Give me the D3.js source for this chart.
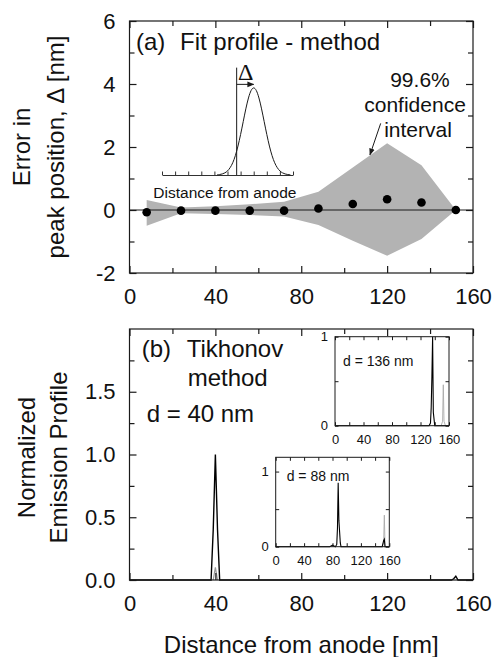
<!DOCTYPE html>
<html><head><meta charset="utf-8">
<script src="https://cdn.jsdelivr.net/npm/d3@7"></script>
<style>
html,body{margin:0;padding:0;background:#fff;}
svg{display:block;}
text{font-family:Arial,"Liberation Sans",Helvetica,sans-serif;fill:#111;}
</style></head><body>
<svg id="chart" width="495" height="657"></svg>
<script>
// ---- Panel (a): error in peak position, fit-profile method ----
const fitDistance = [8, 24, 40, 56, 72, 88, 104, 120, 136, 152];
const fitError    = [-0.07, -0.02, -0.02, -0.02, -0.02, 0.05, 0.19, 0.34, 0.24, 0.0];
const bandUpper   = [0.32, 0.08, 0.12, 0.18, 0.26, 0.58, 1.35, 2.12, 1.42, 0.0];
const bandLower   = [-0.5, -0.1, -0.13, -0.16, -0.21, -0.48, -0.98, -1.45, -0.92, 0.0];

// schematic emission peak drawn above the data (arbitrary units)
const sketchX = [4.2, 4.4, 4.6, 4.8, 5.0, 5.2, 5.4, 5.6, 5.8, 6.0, 6.2, 6.4, 6.6, 6.8, 7.0,
                 7.2, 7.4, 7.6, 7.8, 8.0, 8.2, 8.4, 8.6, 8.8, 9.0, 9.2, 9.4, 9.6, 9.8];
const sketchY = [0.002, 0.005, 0.011, 0.023, 0.044, 0.080, 0.135, 0.216, 0.325, 0.458, 0.607,
                 0.755, 0.882, 0.969, 1.0, 0.969, 0.882, 0.755, 0.607, 0.458, 0.325, 0.216,
                 0.135, 0.080, 0.044, 0.023, 0.011, 0.005, 0.002];
const sketchTicks = [0, 1, 2, 3, 4, 5, 6, 7, 8, 9, 10];
const trueMarker = 5.7, fittedPeak = 7.0;

// ---- Panel (b): Tikhonov reconstruction ----
const profileX  = [0, 38, 39, 40, 41, 42, 150, 151, 152, 153, 160];
const profileY  = [0, 0, 0.4, 1.0, 0.4, 0, 0, 0.01, 0.03, 0, 0];
const profileGX = [39, 40, 41];
const profileGY = [0, 0.1, 0];

const p136X  = [0, 132, 134, 135, 136, 137, 138, 140, 160];
const p136Y  = [0, 0, 0.03, 0.2, 0.55, 1.0, 0.15, 0, 0];
const p136GX = [149, 151, 152, 153, 155];
const p136GY = [0, 0.05, 0.46, 0.05, 0];

const p88X  = [0, 76, 78, 80, 84, 86, 87, 88, 89, 90, 91, 92, 150, 152, 153, 154, 160];
const p88Y  = [0, 0, 0.01, 0.02, 0, 0.03, 0.25, 0.85, 0.35, 0.2, 0.05, 0, 0, 0.08, 0.1, 0, 0];
const p88GX = [150, 152, 153, 154];
const p88GY = [0, 0.05, 0.42, 0];

// tick values
const xMajor = [0, 40, 80, 120, 160], xMinor = [20, 60, 100, 140];
const yMajorA = [-2, 0, 2, 4, 6], yMinorA = [-1, 1, 3, 5];
const yMajorB = [0, 0.5, 1.0, 1.5], yMinorB = [0.25, 0.75, 1.25, 1.75];
const insetXMajor = [0, 40, 80, 120, 160], insetXMinor = [20, 60, 100, 140];
const insetYMajor = [0, 1], insetYMinor = [0.5];

const svg = d3.select("#chart");
const INK = "#1a1a1a";

const defs = svg.append("defs");
defs.append("marker").attr("id", "head").attr("viewBox", "0 0 10 10")
  .attr("refX", 9).attr("refY", 5).attr("markerWidth", 7).attr("markerHeight", 7)
  .attr("orient", "auto-start-reverse")
  .append("path").attr("d", "M0,1 L10,5 L0,9 Z").attr("fill", INK);

// framed plot with inward ticks on all four sides
function framed(g, x, y, o) {
  const [x0, x1] = x.range(), [y0, y1] = y.range();
  const fmtNone = () => "";
  const put = (axis, tx, ty) => {
    const a = g.append("g").attr("transform", `translate(${tx},${ty})`).call(axis);
    a.select(".domain").remove();
    a.selectAll("line").attr("stroke", INK).attr("stroke-width", o.sw);
    a.selectAll("text").attr("font-size", o.fs).attr("fill", "#111")
      .style("font-family", "Arial, 'Liberation Sans', sans-serif");
    return a;
  };
  put(d3.axisBottom(x).tickValues(o.xMajor).tickSize(-o.major).tickPadding(o.padX).tickFormat(o.xFmt), 0, y0);
  put(d3.axisBottom(x).tickValues(o.xMinor).tickSize(-o.minor).tickFormat(fmtNone), 0, y0);
  put(d3.axisTop(x).tickValues(o.xMajor).tickSize(-o.major).tickFormat(fmtNone), 0, y1);
  put(d3.axisTop(x).tickValues(o.xMinor).tickSize(-o.minor).tickFormat(fmtNone), 0, y1);
  put(d3.axisLeft(y).tickValues(o.yMajor).tickSize(-o.major).tickPadding(o.padY).tickFormat(o.yFmt), x0, 0);
  put(d3.axisLeft(y).tickValues(o.yMinor).tickSize(-o.minor).tickFormat(fmtNone), x0, 0);
  put(d3.axisRight(y).tickValues(o.yMajor).tickSize(-o.major).tickFormat(fmtNone), x1, 0);
  put(d3.axisRight(y).tickValues(o.yMinor).tickSize(-o.minor).tickFormat(fmtNone), x1, 0);
  g.append("rect").attr("x", x0).attr("y", y1).attr("width", x1 - x0).attr("height", y0 - y1)
    .attr("fill", "none").attr("stroke", INK).attr("stroke-width", o.sw);
}

// ================= Panel (a) =================
const xA = d3.scaleLinear().domain([0, 160]).range([129.5, 473]);
const yA = d3.scaleLinear().domain([-2, 6]).range([273, 21]);
const gA = svg.append("g");

const bandRows = fitDistance.map((d, i) => ({ x: d, hi: bandUpper[i], lo: bandLower[i] }));
gA.append("path").datum(bandRows)
  .attr("d", d3.area().x(d => xA(d.x)).y0(d => yA(d.lo)).y1(d => yA(d.hi)))
  .attr("fill", "#b3b3b3");

gA.append("line").attr("x1", xA(0)).attr("x2", xA(160)).attr("y1", yA(0)).attr("y2", yA(0))
  .attr("stroke", INK).attr("stroke-width", 1);

gA.selectAll("circle.pt").data(fitDistance).join("circle").attr("class", "pt")
  .attr("cx", d => xA(d)).attr("cy", (d, i) => yA(fitError[i])).attr("r", 4.3).attr("fill", "#000");

framed(gA, xA, yA, {
  xMajor, xMinor, yMajor: yMajorA, yMinor: yMinorA, major: 7, minor: 5,
  padX: 15, padY: 14, fs: 22, sw: 1.2, xFmt: d => String(d), yFmt: d => String(d)
});

gA.append("text").attr("x", 136).attr("y", 50).attr("font-size", 24).text("(a)");
gA.append("text").attr("x", 180).attr("y", 50).attr("font-size", 24).text("Fit profile - method");

// confidence interval annotation
[["99.6%", 135.3, 3.9], ["confidence", 133, 3.12], ["interval", 134.4, 2.32]].forEach(([t, dx, dy]) => {
  gA.append("text").attr("x", xA(dx)).attr("y", yA(dy)).attr("text-anchor", "middle")
    .attr("font-size", 21).text(t);
});
gA.append("line").attr("x1", xA(117)).attr("y1", yA(2.75)).attr("x2", xA(112)).attr("y2", yA(1.75))
  .attr("stroke", INK).attr("stroke-width", 1).attr("marker-end", "url(#head)");

// schematic peak: true position marker and fitted peak offset by Δ
const xi = d3.scaleLinear().domain([0, 10]).range([162, 293]);
const yi = d3.scaleLinear().domain([0, 1]).range([175, 87]);
const gi = gA.append("g");
const sAxis = gi.append("g").attr("transform", `translate(0,${yi(0)})`)
  .call(d3.axisBottom(xi).tickValues(sketchTicks).tickSize(-3.5).tickSizeOuter(0).tickFormat(() => ""));
sAxis.selectAll("line,path").attr("stroke", INK).attr("stroke-width", 0.9);
gi.append("path").datum(sketchX.map((d, i) => [d, sketchY[i]]))
  .attr("d", d3.line().x(d => xi(d[0])).y(d => yi(d[1])).curve(d3.curveBasis))
  .attr("fill", "none").attr("stroke", INK).attr("stroke-width", 1);
gi.append("line").attr("x1", xi(trueMarker)).attr("x2", xi(trueMarker)).attr("y1", yi(0)).attr("y2", yi(1.22))
  .attr("stroke", INK).attr("stroke-width", 1);
gi.append("line").attr("x1", xi(trueMarker)).attr("x2", xi(fittedPeak)).attr("y1", yi(1.03)).attr("y2", yi(1.03))
  .attr("stroke", INK).attr("stroke-width", 1).attr("marker-end", "url(#head)");
gi.append("text").attr("x", xi(6.4)).attr("y", yi(1.08)).attr("text-anchor", "middle")
  .attr("font-size", 24).style("font-family", "'Liberation Serif','Times New Roman',serif").text("Δ");
gi.append("text").attr("x", xi(4.8)).attr("y", yi(-0.26)).attr("text-anchor", "middle")
  .attr("font-size", 15.5).text("Distance from anode");

// y title (a)
const titleA = svg.append("g").attr("transform", `translate(0,${(yA(6) + yA(-2)) / 2}) rotate(-90)`);
titleA.append("text").attr("x", 0).attr("y", 30).attr("text-anchor", "middle").attr("font-size", 24).text("Error in");
titleA.append("text").attr("x", 0).attr("y", 64).attr("text-anchor", "middle").attr("font-size", 24).text("peak position, Δ [nm]");

// ================= Panel (b) =================
const xB = d3.scaleLinear().domain([0, 160]).range([129.5, 473]);
const yB = d3.scaleLinear().domain([0, 2]).range([580, 329]);
const gB = svg.append("g");

const drawLine = (g, x, y, xs, ys, color, w) => g.append("path")
  .datum(xs.map((d, i) => [d, ys[i]]))
  .attr("d", d3.line().x(d => x(d[0])).y(d => y(d[1])))
  .attr("fill", "none").attr("stroke", color).attr("stroke-width", w).attr("stroke-linejoin", "miter");

drawLine(gB, xB, yB, profileX, profileY, "#000", 1.4);
drawLine(gB, xB, yB, profileGX, profileGY, "#999", 1.2);

framed(gB, xB, yB, {
  xMajor, xMinor, yMajor: yMajorB, yMinor: yMinorB, major: 7, minor: 5,
  padX: 15, padY: 14, fs: 22, sw: 1.2, xFmt: d => String(d), yFmt: d3.format(".1f")
});

gB.append("text").attr("x", 141.7).attr("y", 357).attr("font-size", 24).text("(b)");
gB.append("text").attr("x", 186.7).attr("y", 357).attr("font-size", 24).text("Tikhonov");
gB.append("text").attr("x", 227.7).attr("y", 386).attr("text-anchor", "middle").attr("font-size", 24).text("method");
gB.append("text").attr("x", 146.7).attr("y", 422).attr("font-size", 24).text("d = 40 nm");

// insets for other emitter positions
function inset(x, y, xs, ys, gxs, gys, label, lx, ly) {
  const g = gB.append("g");
  g.append("rect").attr("x", x.range()[0]).attr("y", y.range()[1])
    .attr("width", x.range()[1] - x.range()[0]).attr("height", y.range()[0] - y.range()[1]).attr("fill", "#fff");
  drawLine(g, x, y, gxs, gys, "#aaa", 0.9);
  drawLine(g, x, y, xs, ys, "#000", 1.1);
  framed(g, x, y, {
    xMajor: insetXMajor, xMinor: insetXMinor, yMajor: insetYMajor, yMinor: insetYMinor,
    major: 3.5, minor: 3.5, padX: 9, padY: 7, fs: 13, sw: 1, xFmt: d => String(d), yFmt: d => String(d)
  });
  g.append("text").attr("x", lx).attr("y", ly).attr("font-size", 14).text(label);
}
inset(d3.scaleLinear().domain([0, 160]).range([335, 449]), d3.scaleLinear().domain([0, 1]).range([425.7, 336.7]),
      p136X, p136Y, p136GX, p136GY, "d = 136 nm", 343, 366);
inset(d3.scaleLinear().domain([0, 160]).range([275.7, 389.3]), d3.scaleLinear().domain([0, 1.19]).range([546.7, 457.3]),
      p88X, p88Y, p88GX, p88GY, "d = 88 nm", 286.7, 481);

// y title (b)
const titleB = svg.append("g").attr("transform", `translate(0,${(yB(0) + yB(2)) / 2 + 3}) rotate(-90)`);
titleB.append("text").attr("x", 0).attr("y", 35).attr("text-anchor", "middle").attr("font-size", 24).text("Normalized");
titleB.append("text").attr("x", 0).attr("y", 67).attr("text-anchor", "middle").attr("font-size", 24).text("Emission Profile");

// shared x title
svg.append("text").attr("x", (xB(0) + xB(160)) / 2).attr("y", 653).attr("text-anchor", "middle")
  .attr("font-size", 24).text("Distance from anode [nm]");
</script>
</body></html>
